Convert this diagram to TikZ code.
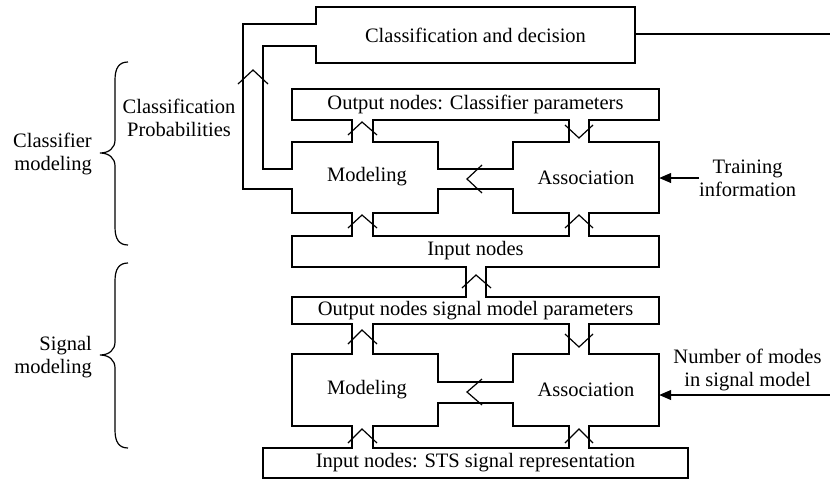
\documentclass[tikz,border=0pt]{standalone}
\usepackage{fontspec}
\setmainfont{Liberation Serif}
\usetikzlibrary{arrows.meta}
\begin{document}
\begin{tikzpicture}[x=1pt,y=-1pt,
  outline/.style={draw=black, line width=1.2pt, line join=miter},
  chev/.style={draw=black, line width=1.2pt},
  lbl/.style={font=\fontsize{20.5}{23}\selectfont, inner sep=0pt, align=center},
  area/.style={lbl, draw=none, minimum width=#1},
  thinarrow/.style={draw=black, line width=1.2pt, -{Triangle[length=12pt,width=10pt]}},
  bracestyle/.style={draw=black, line width=1.2pt}]
\useasboundingbox (0,0) rectangle (830,480);

% ---------- outer outline (one closed line) ----------
\draw[outline] (316,24) -- (243,24) -- (243,189) -- (292,189) -- (292,213) -- (352,213)
  -- (352,236) -- (292,236) -- (292,267) -- (466,267) -- (466,297) -- (292,297)
  -- (292,324) -- (352,324) -- (352,354) -- (292,354) -- (292,426) -- (352,426)
  -- (352,448) -- (263,448) -- (263,478) -- (688,478) -- (688,448) -- (589,448)
  -- (589,426) -- (659,426) -- (659,354) -- (589,354) -- (589,324) -- (659,324)
  -- (659,297) -- (486,297) -- (486,267) -- (659,267) -- (659,236) -- (589,236)
  -- (589,213) -- (659,213) -- (659,142) -- (589,142) -- (589,120) -- (659,120)
  -- (659,89) -- (292,89) -- (292,120) -- (352,120) -- (352,142) -- (292,142)
  -- (292,169) -- (263,169) -- (263,46) -- (316,46) -- (316,63) -- (635,63)
  -- (635,7) -- (316,7) -- cycle;

% ---------- inner outlines ----------
\draw[outline] (373,120) -- (569,120) -- (569,142) -- (513,142) -- (513,169)
  -- (438,169) -- (438,142) -- (373,142) -- cycle;
\draw[outline] (373,213) -- (438,213) -- (438,189) -- (513,189) -- (513,213)
  -- (569,213) -- (569,236) -- (373,236) -- cycle;
\draw[outline] (373,324) -- (569,324) -- (569,354) -- (513,354) -- (513,382)
  -- (438,382) -- (438,354) -- (373,354) -- cycle;
\draw[outline] (373,426) -- (438,426) -- (438,403) -- (513,403) -- (513,426)
  -- (569,426) -- (569,448) -- (373,448) -- cycle;

% ---------- chevrons in the wide channels ----------
\draw[chev] (238,84) -- (253,70) -- (268,84);
\draw[chev] (348,135) -- (362,122) -- (377,135);
\draw[chev] (565,125) -- (579,138) -- (593,125);
\draw[chev] (482,165) -- (467,179) -- (482,193);
\draw[chev] (348,228) -- (362,215) -- (377,228);
\draw[chev] (565,228) -- (579,215) -- (593,228);
\draw[chev] (462,288) -- (476,275) -- (491,288);
\draw[chev] (348,344) -- (362,330) -- (377,344);
\draw[chev] (565,334) -- (579,347) -- (593,334);
\draw[chev] (482,379) -- (467,392) -- (482,405);
\draw[chev] (348,443) -- (362,429) -- (377,443);
\draw[chev] (565,443) -- (579,429) -- (593,443);

% ---------- labels ----------
\node[area=319pt, minimum height=56pt] (cd) at (475.5,35) {Classification and decision};
\node[lbl] (outc) at (475.5,104) {Output nodes: Classifier parameters};
\node[lbl] (mod1) at (367,177) {Modeling};
\node[area=146pt, minimum height=71pt] (assoc1) at (586,177.5) {Association};
\node[lbl] (in1) at (475.5,251) {Input nodes};
\node[lbl] (outs) at (475.5,310.5) {Output nodes signal model parameters};
\node[lbl] (mod2) at (367,390) {Modeling};
\node[area=146pt, minimum height=72pt] (assoc2) at (586,390) {Association};
\node[lbl] (sts) at (475.5,463) {Input nodes: STS signal representation};

\node[lbl, anchor=west] (train) at (699,178) {Training\\information};
\node[lbl] (modes) at (747.5,370) {Number of modes\\in signal model};
\node[lbl] (prob) at (179,118) {Classification\\Probabilities};
\node[lbl, anchor=east, align=right] (clsmod) at (92,154) {Classifier\\modeling};
\node[lbl, anchor=east, align=right] (sigmod) at (92,357) {Signal\\modeling};

% ---------- connectors ----------
\coordinate (cdend) at (830,34);
\draw[outline] (cd.east |- cdend) -- (cdend);
\draw[thinarrow] (train.west) -- (train.west -| assoc1.east);
\coordinate (modesend) at (830,395);
\draw[thinarrow] (modesend) -- (modesend -| assoc2.east);

% ---------- braces ----------
\draw[bracestyle] (128,62) .. controls (119,62) and (115,68) .. (115,80) -- (115,140)
  .. controls (115,148) and (109,153) .. (100,153)
  .. controls (109,153) and (115,158) .. (115,166) -- (115,227)
  .. controls (115,239) and (119,245) .. (128,245);
\draw[bracestyle] (128,263) .. controls (119,263) and (115,269) .. (115,281) -- (115,342)
  .. controls (115,350) and (109,355) .. (100,355)
  .. controls (109,355) and (115,360) .. (115,368) -- (115,430)
  .. controls (115,442) and (119,448) .. (128,448);
\end{tikzpicture}
\end{document}
